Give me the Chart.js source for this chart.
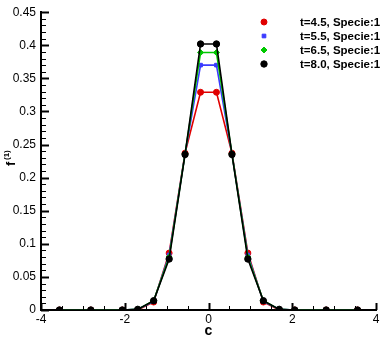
<!DOCTYPE html>
<html lang="en">
<head>
<meta charset="UTF-8">
<title>f(1) vs c</title>
<script src="https://cdn.jsdelivr.net/npm/chart.js@4.4.1/dist/chart.umd.min.js"></script>
<style>
  html, body { margin: 0; padding: 0; background: #fff; }
</style>
</head>
<body>
<canvas id="myChart" width="382" height="337"></canvas>
<script>
// velocity nodes (c) and distribution values f(1) per time
const cNodes = [-3.56, -2.81, -2.06, -1.69, -1.31, -0.94, -0.56, -0.19, 0.19, 0.56, 0.94, 1.31, 1.69, 2.06, 2.81, 3.56];
const fT45 = [0, 0, 0, 0.000, 0.012, 0.086, 0.237, 0.329, 0.329, 0.237, 0.086, 0.012, 0.000, 0, 0, 0];
const fT55 = [0, 0, 0, 0.001, 0.013, 0.083, 0.236, 0.370, 0.370, 0.236, 0.083, 0.013, 0.001, 0, 0, 0];
const fT65 = [0, 0, 0, 0.001, 0.014, 0.080, 0.236, 0.389, 0.389, 0.236, 0.080, 0.014, 0.001, 0, 0, 0];
const fT80 = [0, 0, 0, 0.001, 0.014, 0.077, 0.235, 0.402, 0.402, 0.235, 0.077, 0.014, 0.001, 0, 0, 0];
const seriesLabels = ['t=4.5, Specie:1', 't=5.5, Specie:1', 't=6.5, Specie:1', 't=8.0, Specie:1'];

const FONT = '"Liberation Sans", Arial, Helvetica, sans-serif';

function toPoints(ys) {
    return cNodes.map((c, i) => ({ x: c, y: ys[i] }));
}

const styles = [
    { color: '#e00000', shape: 'circle', r: 3 },
    { color: '#3a3aff', shape: 'rect', r: 2.6 },
    { color: '#00c800', shape: 'rectRot', r: 3 },
    { color: '#000000', shape: 'circle', r: 3.2 }
];
const allSeries = [fT45, fT55, fT65, fT80];

const datasets = allSeries.map((ys, i) => ({
    label: seriesLabels[i],
    data: toPoints(ys),
    borderColor: styles[i].color,
    backgroundColor: styles[i].color,
    pointStyle: styles[i].shape,
    pointRadius: styles[i].r,
    pointBorderWidth: 1,
    borderWidth: 1.6,
    tension: 0,
    order: 3 - i
}));

// inward ticks, axis titles and legend (Tecplot look)
const decor = {
    id: 'decor',
    afterDraw(chart) {
        const { ctx, chartArea: a, scales: { x, y } } = chart;
        ctx.save();
        ctx.strokeStyle = '#000';
        for (let k = -8; k <= 8; k++) {
            const px = Math.round(x.getPixelForValue(k * 0.5)) + 0.5;
            const major = k % 4 === 0;
            ctx.lineWidth = major ? 2 : 1;
            ctx.beginPath();
            ctx.moveTo(px, a.bottom);
            ctx.lineTo(px, a.bottom - (major ? 7 : 4));
            ctx.stroke();
        }
        for (let k = 0; k <= 45; k++) {
            const py = Math.round(y.getPixelForValue(k * 0.01)) + 0.5;
            const major = k % 5 === 0;
            ctx.lineWidth = major ? 2 : 1;
            ctx.beginPath();
            ctx.moveTo(a.left, py);
            ctx.lineTo(a.left + (major ? 8 : 5), py);
            ctx.stroke();
        }

        // axis titles
        ctx.fillStyle = '#000';
        ctx.font = 'bold 14px ' + FONT;
        ctx.textAlign = 'center';
        ctx.textBaseline = 'alphabetic';
        ctx.fillText('c', (a.left + a.right) / 2, 335);

        ctx.save();
        ctx.translate(15, 166);
        ctx.rotate(-Math.PI / 2);
        ctx.textAlign = 'left';
        ctx.font = 'bold 13px ' + FONT;
        ctx.fillText('f', 0, 0);
        ctx.font = 'bold 8px ' + FONT;
        ctx.fillText('(1)', 6, -6);
        ctx.restore();

        // legend
        chart.data.datasets.forEach((ds, i) => {
            const ly = 22 + i * 14;
            ctx.fillStyle = ds.backgroundColor;
            ctx.strokeStyle = ds.borderColor;
            ctx.lineWidth = 1;
            Chart.helpers.drawPoint(ctx, { pointStyle: ds.pointStyle, radius: ds.pointRadius, rotation: 0, borderWidth: 1 }, 264, ly);
            ctx.fillStyle = '#000';
            ctx.font = 'bold 11.5px ' + FONT;
            ctx.textAlign = 'left';
            ctx.textBaseline = 'middle';
            ctx.fillText(ds.label, 300, ly + 0.5);
        });
        ctx.restore();
    }
};

new Chart(document.getElementById('myChart').getContext('2d'), {
    type: 'line',
    data: { datasets: datasets },
    options: {
        responsive: false,
        animation: false,
        layout: { padding: { top: 5, right: 6, left: 0, bottom: 0 } },
        plugins: { legend: { display: false }, tooltip: { enabled: false } },
        scales: {
            x: {
                type: 'linear',
                min: -4,
                max: 4,
                grid: { display: false, drawTicks: false, tickLength: 0 },
                border: { display: true, color: '#000', width: 2 },
                ticks: { stepSize: 2, color: '#000', padding: 2, font: { family: FONT, size: 12 } },
                afterFit: s => { s.height = 27; }
            },
            y: {
                min: 0,
                max: 0.45,
                grid: { display: false, drawTicks: false, tickLength: 0 },
                border: { display: true, color: '#000', width: 2 },
                ticks: {
                    stepSize: 0.05, color: '#000', padding: 5, font: { family: FONT, size: 12 },
                    callback: v => String(+v.toFixed(2))
                },
                afterFit: s => { s.width = 41; }
            }
        }
    },
    plugins: [decor]
});
</script>
</body>
</html>
